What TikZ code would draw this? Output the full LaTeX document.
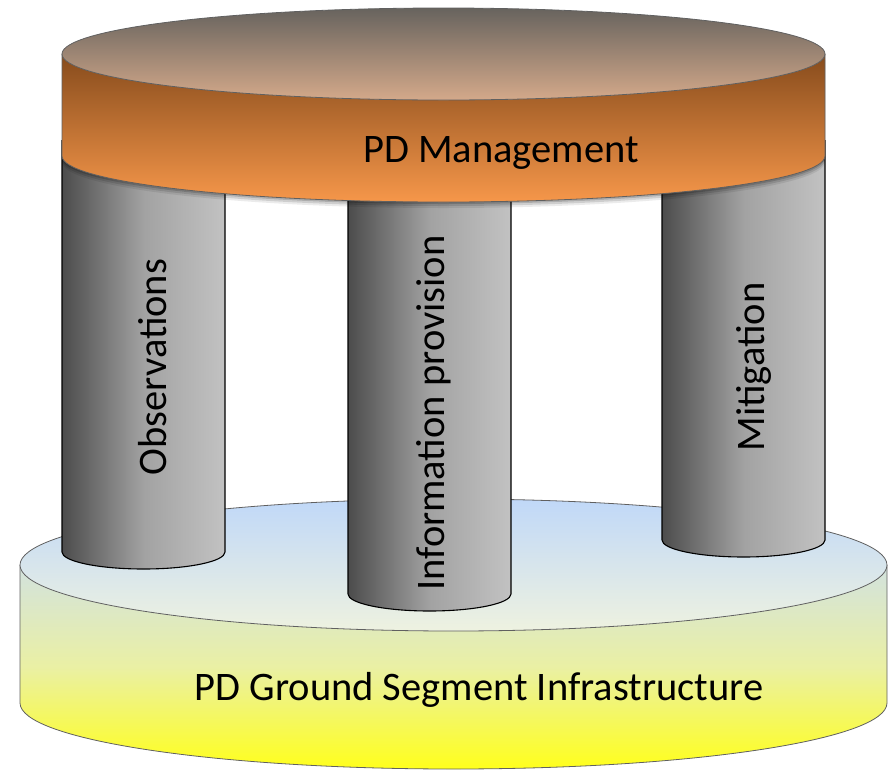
\documentclass[tikz,border=0pt]{standalone}
\usepackage{fontspec}
\setmainfont{Carlito}

% management disk
\definecolor{mgTopA}{HTML}{67635E}
\definecolor{mgTopB}{HTML}{D4A98A}
\definecolor{mgSideA}{HTML}{864B1C}
\definecolor{mgSideB}{HTML}{F6974A}
% ground segment disk
\definecolor{gsTopA}{HTML}{C0D8F8}
\definecolor{gsTopB}{HTML}{EEF2E0}
\definecolor{gsSideA}{HTML}{D2E2DE}
\definecolor{gsSideM}{HTML}{EAF0A4}
\definecolor{gsSideB}{HTML}{FFFF1C}
% pillars
\definecolor{pilA}{HTML}{4C4C4C}
\definecolor{pilM}{HTML}{A2A2A2}
\definecolor{pilB}{HTML}{C2C2C2}

\begin{document}
\begin{tikzpicture}[x=1pt,y=-1pt,
  lbl/.style={font=\fontsize{40.5}{48}\selectfont, text=black, inner sep=0pt},
  rim/.style={draw=gray!75!black, line width=0.8pt},
  pillar/.style={shading=axis, left color=pilA, right color=pilB, middle color=pilM},
  pillaredge/.style={draw=black, line width=1.1pt}]
\useasboundingbox (0,0) rectangle (892,769);

% ---- ground segment disk ----
\path[shading=axis, top color=gsSideA, bottom color=gsSideB, middle color=gsSideM]
  (20,565) -- (20,703)
  arc[start angle=180, end angle=0, x radius=433.5, y radius=66]
  -- (887,565)
  arc[start angle=0, end angle=180, x radius=433.5, y radius=66] -- cycle;
\draw[rim] (20,565) -- (20,703)
  arc[start angle=180, end angle=0, x radius=433.5, y radius=66] -- (887,565);
\path[shading=axis, top color=gsTopA, bottom color=gsTopB]
  (453.5,565) ellipse[x radius=433.5, y radius=66];
\draw[rim] (453.5,565) ellipse[x radius=433.5, y radius=66];

% ---- pillars ----
\foreach \cx/\yb in {143.5/552, 429.5/594, 743.5/540} {
  \path[pillar] ({\cx-81.5},140) -- ({\cx-81.5},\yb)
    arc[start angle=180, end angle=0, x radius=81.5, y radius=17]
    -- ({\cx+81.5},140) -- cycle;
  \draw[pillaredge] ({\cx-81.5},140) -- ({\cx-81.5},\yb)
    arc[start angle=180, end angle=0, x radius=81.5, y radius=17]
    -- ({\cx+81.5},140);
}

% ---- soft shadow below the management disk ----
\foreach \d/\o in {2/0.16, 4/0.12, 6/0.08} {
  \fill[black, opacity=\o]
    (62,60) -- (62,{156+\d})
    arc[start angle=180, end angle=0, x radius=381.5, y radius=46]
    -- (825,60) -- cycle;
}

% ---- management disk ----
\path[shading=axis, top color=mgSideA, bottom color=mgSideB]
  (62,54) -- (62,156)
  arc[start angle=180, end angle=0, x radius=381.5, y radius=46]
  -- (825,54)
  arc[start angle=0, end angle=180, x radius=381.5, y radius=46] -- cycle;
\draw[rim] (62,54) -- (62,156)
  arc[start angle=180, end angle=0, x radius=381.5, y radius=46] -- (825,54);
\path[shading=axis, top color=mgTopA, bottom color=mgTopB]
  (443.5,54) ellipse[x radius=381.5, y radius=46];
\draw[rim] (443.5,54) ellipse[x radius=381.5, y radius=46];

% ---- labels ----
\node[lbl, anchor=base] (mgmt) at (501,162) {PD Management};
\node[lbl, anchor=base] (ground) at (479,700) {PD Ground Segment Infrastructure};
\node[lbl, rotate=90, anchor=base] (obs) at (166,367) {Observations};
\node[lbl, rotate=90, anchor=base] (info) at (444,413) {Information provision};
\node[lbl, rotate=90, anchor=base] (mitig) at (764,367) {Mitigation};
\end{tikzpicture}
\end{document}
